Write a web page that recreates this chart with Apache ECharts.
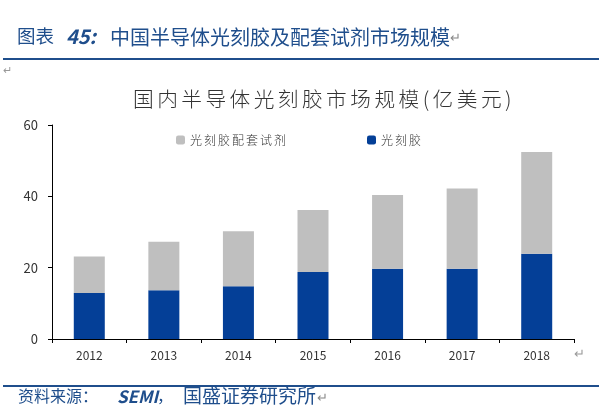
<!DOCTYPE html>
<html><head><meta charset="utf-8">
<script src="https://cdn.jsdelivr.net/npm/echarts@6/dist/echarts.min.js"></script>
<style>html,body{margin:0;padding:0;background:#fff}#c{width:599px;height:418px}</style>
</head><body><div id="c"></div>
<script>
const years = ['2012','2013','2014','2015','2016','2017','2018'];
const photoresist = [12.9, 13.7, 14.8, 18.8, 19.7, 19.7, 23.9];
const reagents = [10.2, 13.6, 15.4, 17.4, 20.7, 22.5, 28.5];
const yTicks = [0, 20, 40, 60];

const blue = '#043F97', gray = '#BFBFBF', hdr = '#1F4E8C';
const font = '"Noto Sans CJK SC", "Noto Sans", sans-serif';
const sp = s => s.split('').join('\u2006');
const txt = (x, y, t, size, extra) => ({ type: 'text', left: x, top: y,
  style: Object.assign({ text: t, fontSize: size, fill: hdr, fontFamily: font }, extra || {}) });
const chart = echarts.init(document.getElementById('c'));
chart.setOption({
  animation: false,
  textStyle: { fontFamily: font },
  title: { text: sp('国内半导体光刻胶市场规模(亿美元)'), left: 128, top: 84,
    textStyle: { fontSize: 20.7, fontWeight: 300, color: '#333', fontFamily: font } },
  legend: [
    { data: ['光刻胶配套试剂'], left: 171, top: 129, itemWidth: 9, itemHeight: 9, itemGap: 3,
      formatter: n => sp(n), textStyle: { fontSize: 12, color: '#333', fontWeight: 300 } },
    { data: ['光刻胶'], left: 362, top: 129, itemWidth: 9, itemHeight: 9, itemGap: 3,
      formatter: n => sp(n), textStyle: { fontSize: 12, color: '#333', fontWeight: 300 } }
  ],
  grid: { left: 52, right: 25, top: 125, bottom: 79 },
  xAxis: { type: 'category', data: years,
    axisLine: { lineStyle: { color: '#000' } },
    axisTick: { show: true, length: 4, lineStyle: { color: '#000' } },
    axisLabel: { color: '#333', fontSize: 12, margin: 10 } },
  yAxis: { type: 'value', min: yTicks[0], max: yTicks[yTicks.length-1], interval: 20,
    axisLine: { show: true, lineStyle: { color: '#000' } },
    axisTick: { show: true, length: 4, lineStyle: { color: '#000' } },
    splitLine: { show: false },
    axisLabel: { color: '#333', fontSize: 13, margin: 14 } },
  series: [
    { name: '光刻胶', type: 'bar', stack: 't', data: photoresist, barWidth: 31, itemStyle: { color: blue } },
    { name: '光刻胶配套试剂', type: 'bar', stack: 't', data: reagents, barWidth: 31, itemStyle: { color: gray } }
  ],
  graphic: [
    txt(17, 27, '图表', 18.5),
    txt(66, 26, '45:', 20, { fontWeight: 'bold', fontStyle: 'italic' }),
    { type: 'text', left: 110, top: 27, style: {
      text: '{a|中国半导体光刻胶及配套试剂市场规模}{c|↵}',
      rich: { a: { fontSize: 20, fill: hdr, fontFamily: font },
              c: { fontSize: 13, fill: '#888', fontFamily: font } } } },
    { type: 'rect', shape: { x: 3, y: 58, width: 596, height: 2 }, style: { fill: hdr } },
    txt(3, 64, '↵', 11, { fill: '#999' }),
    txt(574, 347, '↵', 13, { fill: '#999' }),
    { type: 'rect', shape: { x: 3, y: 385, width: 596, height: 2 }, style: { fill: hdr } },
    txt(18, 388, '资料来源：', 16),
    txt(117, 388, 'SEMI', 17, { fontWeight: 'bold', fontStyle: 'italic' }),
    txt(157, 388, '，', 16),
    txt(183, 386, '国盛证券研究所', 19),
    txt(317, 391, '↵', 13, { fill: '#888' })
  ]
});
</script></body></html>
